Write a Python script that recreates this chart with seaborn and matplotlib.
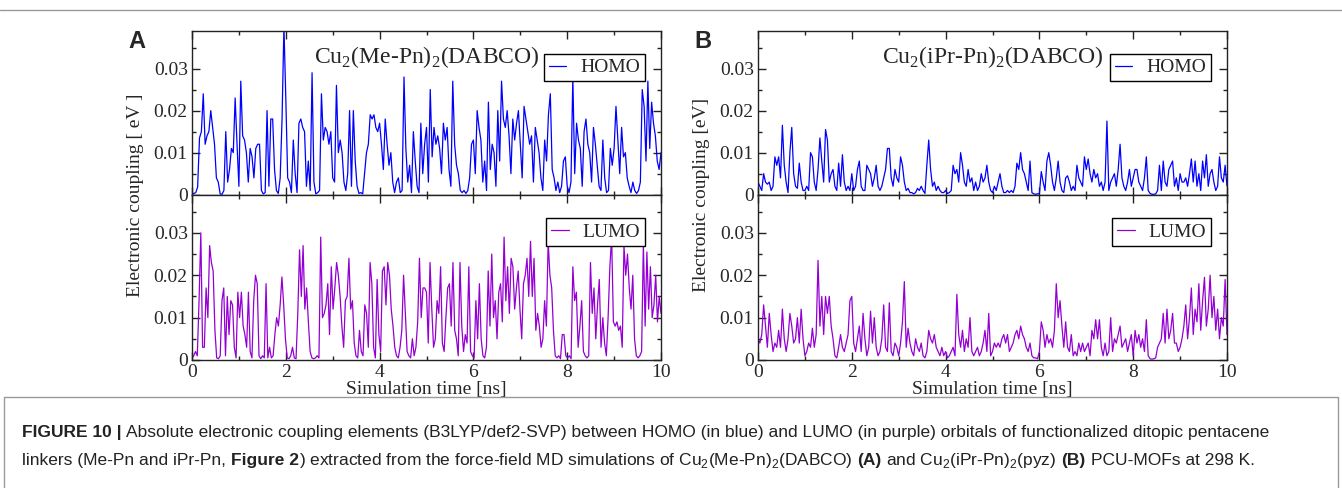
import numpy as np
import pandas as pd
import matplotlib
matplotlib.use('Agg')
import matplotlib.pyplot as plt
from matplotlib.lines import Line2D
from matplotlib.ticker import MultipleLocator
import seaborn as sns

# absolute couplings in meV, evenly spaced over 0-10 ns
homo_a = [0.2, 0.3, 0.5, 1.8, 13.5, 15, 24, 12, 14, 15, 20, 16, 12, 4, 3, 0.2, 0.1, 1, 15, 3, 6, 11, 10, 23, 12,
          2, 27, 14, 13, 10, 3, 11, 9, 4, 11, 12, 12, 1, 0.2, 0.5, 20, 2, 18, 18, 6, 1, 0.3, 4, 18, 40, 23,
          4, 3, 0.5, 13, 5, 0.5, 17, 18, 16, 15, 2, 8, 1, 29, 3, 0.2, 0.5, 1, 24, 13, 16, 15, 12, 15, 4,
          3, 26, 10, 13, 10, 3, 1, 5, 20, 2, 20, 8, 2, 0.3, 0.5, 0.2, 5, 10, 12, 19, 18, 19, 16, 15, 17,
          12, 6, 18, 12, 7, 10, 3, 0.5, 3, 4, 0.5, 1, 28, 11, 3, 7, 0.5, 15, 8, 2, 0.5, 17, 5, 12, 16,
          3, 25, 9, 16, 12, 14, 11, 5, 17, 13, 16, 6, 2, 27, 12, 7, 5, 1, 0.5, 1, 0.3, 1, 4, 12, 13,
          5, 20, 16, 13, 3, 8, 1, 22, 6, 12, 10, 2, 20, 8, 27, 18, 16, 20, 14, 5, 18, 13, 17, 20, 12,
          4, 21, 18, 15, 12, 14, 3, 16, 13, 10, 4, 1, 13, 8, 19, 24, 6, 4, 1, 3, 0.5, 2, 8, 9, 2,
          0.5, 3, 28, 5, 17, 13, 11, 2, 15, 18, 12, 10, 3, 16, 12, 7, 2, 1, 13, 4, 0.5, 1, 11, 7, 11,
          21, 13, 5, 16, 9, 10, 4, 2, 0.5, 3, 1, 0.3, 1, 3, 25, 21, 8, 27, 11, 22, 17, 14, 8, 6, 10]

lumo_a = [0.5, 1, 2, 1, 14, 30, 3, 3, 17, 10, 27, 23, 21, 7, 0.5, 0.3, 1, 14, 17, 1, 15, 6, 14, 13, 3,
          0.5, 16, 10, 16, 8, 6, 3, 16, 2, 0.5, 14, 20, 18, 1, 0.3, 1, 0.5, 18, 0.5, 3, 0.5, 1, 6, 10, 8,
          13, 19.6, 13, 5, 0.5, 0.3, 1, 3, 0.5, 0.3, 11, 26, 15, 27, 12, 17, 9, 2, 0.5, 0.3, 0.5, 1, 0.5, 29, 10,
          11, 13, 18, 6, 22, 12, 17, 23, 20, 15, 8, 3, 14, 15, 24, 12, 14, 4, 1, 0.5, 7, 2, 1, 13, 11,
          3, 23, 18, 3, 0.5, 19, 6, 2, 21, 22, 13, 23, 20, 12, 8, 3, 1, 0.5, 3, 7, 20, 11,
          2, 1, 0.5, 5, 1, 3, 9, 24, 10, 17, 17, 16, 4, 23, 12, 3, 5, 14, 11, 22, 4, 2, 10, 17, 18,
          8, 23, 7, 5, 1, 23, 8, 2, 6, 4, 22, 2, 1, 0.5, 14, 5, 18, 5, 1, 0.5, 3, 21, 8, 25, 10,
          14, 5, 16, 18, 9, 29, 14, 22, 11, 24, 22, 12, 17, 21, 12, 5, 18, 20, 24, 15, 28, 15, 24, 7, 11,
          8, 3, 5, 14, 8, 28, 20, 17, 7, 1, 0.5, 1, 0.3, 6, 6, 1, 0.5, 1, 0.3, 22, 14, 16, 3, 8, 14,
          2, 1, 0.5, 1, 23, 11, 17, 5, 13, 19, 3, 10, 4, 1, 10, 22, 29, 9, 8, 9, 7, 8, 3, 27, 20, 25, 17, 12, 20,
          5, 1, 0.5, 1, 2, 27.5, 8, 25.5, 12, 22, 10, 13, 20, 9, 15, 11]

homo_b = [3, 2, 1, 5, 3, 2.5, 3, 1, 2, 9, 7, 9, 4, 16.5, 7, 3, 0.5, 10, 16, 5, 2, 1.5, 7.5, 3, 1,
          1, 2, 1, 10, 9, 3, 1, 6, 13.5, 8, 3, 15.5, 13, 3, 5, 6, 2, 1, 7.5, 2, 9.5, 3, 1, 2, 1,
          5, 1, 2, 6, 8, 2, 1, 1, 7, 6, 5, 2, 4, 7, 2, 1, 2, 4, 6, 11, 11, 4, 2, 6, 4,
          3, 9, 7, 3, 1, 1.5, 0.5, 0.5, 0.2, 0.5, 1.5, 1, 2, 1, 0.3, 7, 13, 6, 2, 3, 1, 2, 1, 0.5, 0.5,
          1, 0.3, 0.5, 1, 7, 5, 6, 3, 10, 7, 3, 2, 6, 3, 4, 1, 3, 1, 2, 5, 3, 4, 7, 3, 1,
          0.5, 2, 1, 3, 5, 2, 0.5, 0.5, 1, 0.5, 1, 0.5, 2, 7.5, 6, 10, 6, 5, 3, 1, 8, 0.5, 0.2, 0.1, 0.2,
          0.3, 5.5, 3, 1, 8, 10, 7, 3, 1, 4, 8, 3, 1, 0.5, 4, 4.5, 3, 1, 2, 1, 7, 4, 3, 2, 9,
          6, 8.5, 5, 3, 6, 4, 5, 2, 3, 1, 3, 17.5, 1, 3, 4, 5, 2, 6, 12, 4, 2, 1, 3, 6, 2,
          4, 6, 6, 3, 2, 1, 4, 9, 1, 0.3, 0.1, 0.1, 0.2, 1, 7, 1, 8, 3, 2, 6, 7, 8, 2, 4, 1, 5, 3,
          3, 4, 2, 5, 8.5, 3, 8, 2, 5, 1, 8, 4, 9.5, 2, 5, 6, 3, 1, 2, 9, 4, 3, 7, 2]

lumo_b = [5, 4, 6, 13, 8, 3, 11, 6, 2, 4, 3, 7, 3, 12, 5, 2, 5, 11, 8, 4, 5, 10, 4, 12, 5,
          1, 2, 4, 3, 7.5, 3, 6, 23.5, 8, 15, 6, 15, 11, 15, 8, 5, 1, 0.5, 3, 6, 3, 2, 4, 6, 14,
          15, 4, 2, 5, 8, 2, 11, 5, 1, 3, 11.5, 4, 10, 3, 1, 2, 5, 13, 3, 2, 13.5, 2, 1, 4, 3,
          1, 4, 9, 18.5, 3, 7.5, 4, 2, 1, 5, 3, 2, 4, 1, 0.5, 2, 7, 5, 4, 6, 3, 2, 1, 3, 1,
          2, 0.5, 1, 2, 3, 1, 15.5, 6, 3, 7, 2, 5, 3, 10, 2, 1, 2, 3, 1, 2, 4, 7, 2, 11, 1,
          2, 4, 3, 4, 3, 5, 6, 4, 6, 2, 3, 4, 6, 7, 5, 8, 6, 5, 3, 2, 4, 1, 0.5, 0.5, 0.3,
          2, 9, 7, 3, 6, 4, 5, 3, 7, 18, 10, 14, 8, 3, 9, 3, 2, 6, 1, 2, 1, 4, 2, 4, 2,
          3, 4, 1, 7, 5, 9.5, 5, 9.5, 3, 1, 4, 1, 2, 10, 2, 5, 4, 6, 8, 3, 4, 5, 2, 4, 6,
          1, 7, 4, 6, 3, 5, 2, 9.5, 1, 0.3, 0.2, 0.3, 0.5, 3, 4, 5, 11, 4, 12, 5, 7, 11, 4, 4, 2, 3, 5,
          8, 13, 5, 10, 17, 6, 12, 9, 18, 7, 14, 19.5, 8, 12, 20, 10, 15, 7, 12, 5, 10, 8, 19, 6]

titles = [r'Cu$_\mathregular{2}$(Me-Pn)$_\mathregular{2}$(DABCO)',
          r'Cu$_\mathregular{2}$(iPr-Pn)$_\mathregular{2}$(DABCO)']
ylabels = ['Electronic coupling [ eV ]', 'Electronic coupling [eV]']
letters = ['A', 'B']
xticks = [0, 2, 4, 6, 8, 10]
yticks = [0, 0.01, 0.02, 0.03]
ytick_labels = ['0', '0.01', '0.02', '0.03']

HOMO_COLOR = '#0000ff'
LUMO_COLOR = '#9400d3'
W, H = 1342, 488

sns.set_style('ticks')
plt.rcParams['font.family'] = ['Liberation Serif', 'DejaVu Serif']
SANS = ['Liberation Sans', 'DejaVu Sans']
NARROW = ['Liberation Sans Narrow', 'Liberation Sans', 'DejaVu Sans']


def to_frame(vals):
    v = np.array(vals) / 1000.0
    return pd.DataFrame({'time': np.linspace(0, 10, len(v)), 'coupling': v})


def style_axes(ax, show_x):
    ax.set_xlim(0, 10)
    ax.set_ylim(0, 0.039)
    ax.set_xticks(xticks)
    ax.set_yticks(yticks)
    ax.set_yticklabels(ytick_labels)
    ax.xaxis.set_minor_locator(MultipleLocator(1))
    ax.yaxis.set_minor_locator(MultipleLocator(0.005))
    ax.tick_params(which='both', direction='in', top=True, right=True,
                   labelsize=14, width=1, color='#222222', pad=3)
    ax.tick_params(which='major', length=6)
    ax.tick_params(which='minor', length=3)
    ax.set_xlabel('')
    ax.set_ylabel('')
    if show_x:
        ax.set_xticklabels([str(x) for x in xticks])
        ax.set_xlabel('Simulation time [ns]', fontsize=14, labelpad=0)
    else:
        ax.tick_params(labelbottom=False)
    for s in ax.spines.values():
        s.set_linewidth(1)
        s.set_color('#222222')
    leg = ax.legend(loc='center right', bbox_to_anchor=(0.965, 0.775), fontsize=14,
                    frameon=True, fancybox=False, framealpha=1, edgecolor='black',
                    handlelength=0.9, handletextpad=0.7, borderpad=0.25, borderaxespad=0)
    leg.get_frame().set_linewidth(1)


fig = plt.figure(figsize=(W / 100, H / 100), dpi=100)

panels = [(192, homo_a, lumo_a), (758, homo_b, lumo_b)]
for k, (left, homo, lumo) in enumerate(panels):
    ax_top = fig.add_axes([left / W, 1 - 194.7 / H, 469 / W, 164 / H])
    ax_bot = fig.add_axes([left / W, 1 - 360 / H, 469 / W, 165.3 / H])
    sns.lineplot(data=to_frame(homo), x='time', y='coupling', ax=ax_top,
                 color=HOMO_COLOR, lw=0.9, label='HOMO', estimator=None)
    sns.lineplot(data=to_frame(lumo), x='time', y='coupling', ax=ax_bot,
                 color=LUMO_COLOR, lw=0.9, label='LUMO', estimator=None)
    style_axes(ax_top, False)
    style_axes(ax_bot, True)
    ax_top.text(0.5, 0.84, titles[k], transform=ax_top.transAxes,
                ha='center', va='center', fontsize=17)
    fig.text((left - 57) / W, 1 - 195 / H, ylabels[k], rotation=90,
             ha='center', va='center', fontsize=14)
    fig.text((left - 64) / W, 1 - 30 / H, letters[k], fontsize=17,
             fontweight='bold', family=SANS, ha='left', va='top')

# frame lines around the figure and caption
grey = '#9a9a9a'
fig.add_artist(Line2D([0, 1], [1 - 10 / H] * 2, transform=fig.transFigure, color=grey, lw=1))
fig.add_artist(Line2D([4 / W, 4 / W, 1338 / W, 1338 / W], [0, 1 - 397 / H, 1 - 397 / H, 0],
                      transform=fig.transFigure, color=grey, lw=1))

# caption, drawn run by run to mix bold and regular text
cap_size = 12.5
line1 = [('FIGURE 10 |', 'bold', False),
         ('Absolute electronic coupling elements (B3LYP/def2-SVP) between HOMO (in blue) and LUMO '
          '(in purple) orbitals of functionalized ditopic pentacene', 'normal', True)]
line2 = [('linkers (Me-Pn and iPr-Pn,', 'normal', False),
         ('Figure 2', 'bold', True),
         (r') extracted from the force-field MD simulations of '
          r'Cu$_\mathregular{2}$(Me-Pn)$_\mathregular{2}$(DABCO)', 'normal', False),
         ('(A)', 'bold', True),
         (r'and Cu$_\mathregular{2}$(iPr-Pn)$_\mathregular{2}$(pyz)', 'normal', True),
         ('(B)', 'bold', True),
         ('PCU-MOFs at 298 K.', 'normal', True)]

renderer = fig.canvas.get_renderer()


def text_width(s, weight):
    t = fig.text(0, 0, s, fontsize=cap_size, fontweight=weight, family=NARROW)
    w = t.get_window_extent(renderer).width
    t.remove()
    return w


space = text_width('n n', 'normal') - text_width('nn', 'normal')


def put_runs(x_px, y_px, runs):
    x = x_px
    for s, weight, gap in runs:
        if gap:
            x += space
        t = fig.text(x / W, 1 - y_px / H, s, fontsize=cap_size, fontweight=weight,
                     family=NARROW, ha='left', va='baseline', color='#222222')
        x += t.get_window_extent(renderer).width


put_runs(22, 437, line1)
put_runs(22, 465, line2)

fig.savefig('out.png', dpi=100)
